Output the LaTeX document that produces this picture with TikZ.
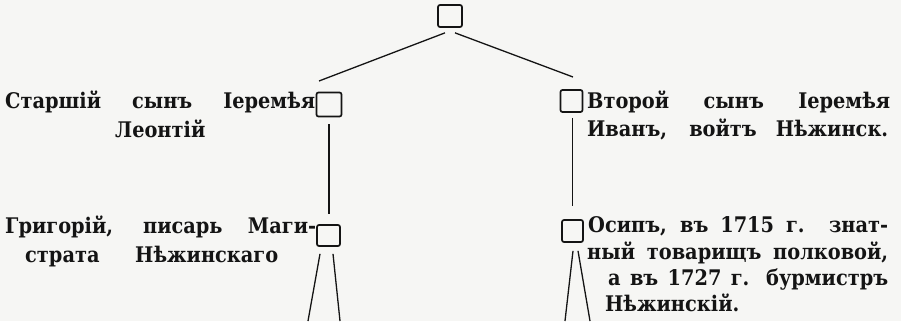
\documentclass[tikz,border=0pt]{standalone}
\usepackage{fontspec}
\setmainfont{DejaVu Serif Condensed}
\definecolor{paper}{RGB}{246,246,244}
\definecolor{ink}{RGB}{20,20,20}
\begin{document}
\begin{tikzpicture}[x=1pt,y=-1pt,
  famb/.style={draw=ink,line width=1.7pt,rounded corners=2pt,inner sep=0pt},
  conn/.style={draw=ink,line width=1.3pt},
  txt/.style={inner sep=0pt,anchor=base west,text=ink,font=\fontsize{21.5}{21.5}\selectfont\bfseries}]
\fill[paper] (0,0) rectangle (901,321);
\useasboundingbox (0,0) rectangle (901,321);
% boxes
\node[famb,minimum width=24pt,minimum height=22pt] (top) at (450,16) {};
\node[famb,minimum width=25pt,minimum height=24pt] (lbox) at (329,104.5) {};
\node[famb,minimum width=22pt,minimum height=22pt] (rbox) at (571.5,101) {};
\node[famb,minimum width=23pt,minimum height=21pt] (lbox2) at (328.5,235.5) {};
\node[famb,minimum width=21pt,minimum height=22pt] (rbox2) at (572.5,231) {};
% free ends
\coordinate (tl) at (319,81);
\coordinate (tr) at (573,77);
\coordinate (la) at (308,321);
\coordinate (lb) at (340,321);
\coordinate (ra) at (565,321);
\coordinate (rb) at (590,321);
% connectors
\draw[conn] ([xshift=-5pt,yshift=-5pt]top.south) -- (tl);
\draw[conn] ([xshift=5pt,yshift=-5pt]top.south) -- (tr);
\draw[conn] ([xshift=0pt,yshift=-7pt]lbox.south) -- ([xshift=0.5pt,yshift=10pt]lbox2.north);
\draw[conn] ([xshift=1pt,yshift=-5pt]rbox.south) -- ([xshift=0pt,yshift=13pt]rbox2.north);
\draw[conn] ([xshift=-8.5pt,yshift=-7pt]lbox2.south) -- (la);
\draw[conn] ([xshift=4.5pt,yshift=-7pt]lbox2.south) -- (lb);
\draw[conn] ([xshift=0.5pt,yshift=-8pt]rbox2.south) -- (ra);
\draw[conn] ([xshift=5.5pt,yshift=-8pt]rbox2.south) -- (rb);
% texts
\node[txt] (l1a) at (5,108) {\makebox[310pt][s]{Старшій сынъ Іеремѣя}};
\node[txt] (l1b) at (115,137) {Леонтій};
\node[txt] (r1a) at (587,108) {\makebox[303pt][s]{Второй сынъ Іеремѣя}};
\node[txt] (r1b) at (587,136) {\makebox[301pt][s]{Иванъ, войтъ Нѣжинск.}};
\node[txt] (l2a) at (5,233) {\makebox[311pt][s]{Григорій, писарь Маги-}};
\node[txt] (l2b) at (25,262) {\makebox[253pt][s]{страта Нѣжинскаго}};
\node[txt] (r2a) at (588,232) {\makebox[300pt][s]{Осипъ, въ 1715 г. знат-}};
\node[txt] (r2b) at (587,259) {\makebox[301pt][s]{ный товарищъ полковой,}};
\node[txt] (r2c) at (608,285) {\makebox[280pt][s]{а въ 1727 г. бурмистръ}};
\node[txt] (r2d) at (605,311) {Нѣжинскій.};
\end{tikzpicture}
\end{document}
